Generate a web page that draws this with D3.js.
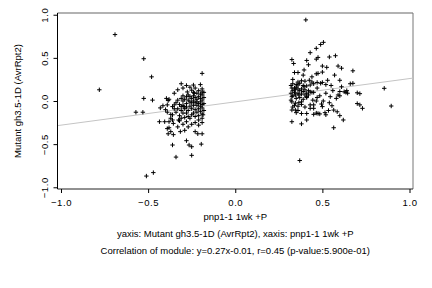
<!DOCTYPE html>
<html>
<head>
<meta charset="utf-8">
<script src="https://cdn.jsdelivr.net/npm/d3@7"></script>
<style>
  html, body { margin: 0; padding: 0; background: #fff; }
  text { font-family: "Liberation Sans", Arial, sans-serif; fill: #000; }
</style>
</head>
<body>
<svg id="chart" width="432" height="288"></svg>
<script>
// expression values: x = pnp1-1 1wk +P, y = Mutant gh3.5-1D (AvrRpt2)
const points = [
  // left group
  [-0.69,0.77],[-0.525,0.49],[-0.48,0.28],[-0.19,0.32],[-0.78,0.13],[-0.31,0.20],[-0.24,0.185],[-0.35,0.09],
  [-0.275,0.105],[-0.25,0.125],[-0.235,0.09],[-0.19,0.105],[-0.19,0.07],[-0.525,0.03],[-0.475,0.01],[-0.395,0.03],
  [-0.38,0.02],[-0.385,0.005],[-0.57,-0.13],[-0.53,-0.13],[-0.415,-0.055],[-0.39,-0.045],[-0.35,-0.045],[-0.36,-0.065],
  [-0.35,-0.09],[-0.31,-0.065],[-0.295,-0.065],[-0.37,-0.155],[-0.36,-0.16],[-0.28,-0.14],[-0.27,-0.18],[-0.31,-0.2],
  [-0.325,-0.22],[-0.435,-0.24],[-0.405,-0.24],[-0.38,-0.24],[-0.37,-0.2],[-0.36,-0.22],[-0.355,-0.26],[-0.32,-0.23],
  [-0.38,-0.31],[-0.37,-0.355],[-0.315,-0.355],[-0.39,-0.32],[-0.385,-0.38],[-0.355,-0.39],[-0.23,-0.355],[-0.215,-0.38],
  [-0.19,-0.38],[-0.36,-0.51],[-0.28,-0.46],[-0.265,-0.51],[-0.25,-0.53],[-0.34,-0.65],[-0.25,-0.63],[-0.195,-0.50],
  [-0.185,-0.16],[-0.19,-0.2],[-0.21,-0.22],[-0.51,-0.87],[-0.47,-0.83],
  [-0.27,0.07],[-0.26,0.05],[-0.25,0.03],[-0.24,0.06],[-0.23,0.04],[-0.22,0.02],[-0.21,0.05],[-0.2,0.03],
  [-0.19,0.01],[-0.2,-0.01],[-0.21,-0.03],[-0.22,-0.01],[-0.23,-0.02],[-0.24,0.0],[-0.25,-0.02],[-0.26,-0.01],
  [-0.27,0.01],[-0.28,-0.03],[-0.29,0.02],[-0.3,0.0],[-0.19,-0.04],[-0.2,-0.06],[-0.22,-0.05],[-0.24,-0.05],
  [-0.26,-0.06],[-0.28,-0.07],[-0.19,-0.08],[-0.21,-0.09],[-0.23,-0.1],[-0.25,-0.09],[-0.27,-0.11],[-0.2,-0.12],
  [-0.22,-0.13],[-0.24,-0.14],[-0.19,-0.15],[-0.21,-0.17],[-0.23,-0.18],[-0.25,-0.16],[-0.26,-0.2],[-0.2,0.08],
  [-0.22,0.09],[-0.24,0.1],[-0.21,0.12],[-0.19,0.14],[-0.2,0.19],[-0.23,0.15],[-0.28,0.05],[-0.3,0.06],
  [-0.31,0.03],[-0.33,0.01],[-0.34,-0.02],[-0.32,-0.04],[-0.3,-0.05],[-0.29,-0.09],[-0.31,-0.11],[-0.33,-0.09],
  [-0.34,-0.13],[-0.3,-0.14],[-0.32,-0.17],[-0.29,-0.19],[-0.28,-0.24],[-0.3,-0.27],[-0.27,-0.3],[-0.33,-0.3],
  [-0.29,-0.34],[-0.25,-0.27],[-0.23,-0.25],[-0.21,-0.28],[-0.19,-0.25],[-0.18,-0.11],[-0.18,-0.03],[-0.18,0.04],
  [-0.18,0.1],[-0.4,-0.1],[-0.43,-0.08],[-0.39,-0.13],[-0.3,0.15],[-0.28,0.18],[-0.26,0.16],[-0.33,0.13],
  // right group
  [0.405,0.94],[0.43,0.56],[0.465,0.61],[0.49,0.655],[0.506,0.68],[0.325,0.48],[0.335,0.435],[0.41,0.47],
  [0.42,0.42],[0.465,0.485],[0.475,0.505],[0.54,0.51],[0.575,0.525],[0.5,0.405],[0.525,0.39],[0.59,0.405],
  [0.61,0.38],[0.675,0.35],[0.34,0.33],[0.36,0.33],[0.395,0.36],[0.465,0.315],[0.475,0.32],[0.5,0.335],
  [0.57,0.30],[0.33,0.25],[0.36,0.22],[0.38,0.235],[0.4,0.23],[0.425,0.24],[0.44,0.22],[0.47,0.215],
  [0.49,0.205],[0.52,0.19],[0.55,0.18],[0.61,0.165],[0.66,0.2],[0.675,0.205],[0.855,0.147],[0.6,0.11],
  [0.64,0.12],[0.715,0.085],[0.70,0.095],[0.625,0.107],[0.645,0.09],[0.70,-0.03],[0.715,-0.045],[0.73,-0.085],
  [0.895,-0.058],[0.325,-0.105],[0.345,-0.105],[0.36,-0.11],[0.325,-0.24],[0.38,-0.265],[0.41,-0.22],[0.565,-0.31],
  [0.465,-0.14],[0.485,-0.15],[0.515,-0.135],[0.535,-0.11],[0.565,-0.105],[0.585,-0.125],[0.6,-0.17],[0.62,-0.22],
  [0.37,-0.69],[0.52,-0.16],[0.35,-0.135],[0.38,-0.145],[0.41,-0.145],[0.45,-0.155],[0.475,-0.145],[0.325,-0.01],
  [0.345,-0.025],[0.365,-0.02],[0.38,-0.01],[0.445,0.01],[0.465,0.0],[0.505,0.0],[0.495,-0.035],[0.5,-0.065],
  [0.43,-0.045],[0.45,-0.045],[0.43,-0.085],[0.45,-0.085],[0.555,-0.055],[0.325,0.05],[0.345,0.07],[0.365,0.07],
  [0.40,0.07],[0.41,0.04],[0.485,0.06],[0.545,0.05],[0.59,0.07],[0.60,0.06],[0.635,0.10],[0.325,0.15],
  [0.345,0.13],[0.36,0.185],[0.37,0.205],[0.395,0.165],[0.41,0.175],[0.43,0.185],[0.45,0.2],[0.5,0.215],
  [0.43,0.105],[0.44,0.1],[0.45,0.1],
  [0.32,0.18],[0.33,0.12],[0.34,0.1],[0.35,0.16],[0.36,0.09],[0.37,0.12],[0.38,0.14],[0.39,0.11],
  [0.4,0.13],[0.41,0.09],[0.42,0.12],[0.33,0.06],[0.35,0.03],[0.37,0.04],[0.39,0.02],[0.41,0.05],
  [0.32,0.01],[0.34,-0.05],[0.36,-0.06],[0.38,-0.04],[0.4,-0.07],[0.33,-0.07],[0.35,0.19],[0.39,0.18],
  [0.32,0.09],[0.34,0.15],[0.36,0.14],[0.42,0.07],[0.38,0.08],[0.33,0.2],[0.47,0.04],[0.52,0.09],
  [0.56,0.12],[0.58,0.03],[0.54,-0.02],[0.47,0.15],[0.53,0.24],[0.6,0.24],[0.44,0.28],[0.39,0.3]
];

const xTicks = [-1.0, -0.5, 0.0, 0.5, 1.0];
const yTicks = [-1.0, -0.5, 0.0, 0.5, 1.0];
const fitSlope = 0.27;
const fitIntercept = -0.01;

const xTitle = "pnp1-1 1wk +P";
const yTitle = "Mutant gh3.5-1D (AvrRpt2)";
const captions = [
  "yaxis: Mutant gh3.5-1D (AvrRpt2), xaxis: pnp1-1 1wk +P",
  "Correlation of module: y=0.27x-0.01, r=0.45 (p-value:5.900e-01)"
];

const box = { left: 57.5, right: 413, top: 13, bottom: 189 };
const fontSize = 9.5;

const svg = d3.select("#chart");

const x = d3.scaleLinear().domain([-1.02, 1.02]).range([box.left, box.right]);
const y = d3.scaleLinear().domain([-1.02, 1.02]).range([box.bottom, box.top]);

// frame (top/right grey, left/bottom black like the original)
svg.append("line")
  .attr("x1", box.left).attr("x2", box.right).attr("y1", box.top).attr("y2", box.top)
  .attr("stroke", "#999").attr("stroke-width", 1.3);
svg.append("line")
  .attr("x1", box.right).attr("x2", box.right).attr("y1", box.top).attr("y2", box.bottom)
  .attr("stroke", "#777");

svg.append("defs").append("clipPath").attr("id", "clip")
  .append("rect")
  .attr("x", box.left).attr("y", box.top)
  .attr("width", box.right - box.left).attr("height", box.bottom - box.top);

// fitted line
const fitLine = d3.line().x(d => x(d)).y(d => y(fitSlope * d + fitIntercept));
svg.append("path")
  .datum(x.domain())
  .attr("d", fitLine)
  .attr("fill", "none")
  .attr("stroke", "#c4c4c4")
  .attr("stroke-width", 1)
  .attr("clip-path", "url(#clip)");

// points as "+"
svg.append("g")
  .selectAll("path")
  .data(points)
  .join("path")
  .attr("transform", d => `translate(${x(d[0])},${y(d[1])})`)
  .attr("d", "M-2.2,0H2.2M0,-2.2V2.2")
  .attr("stroke", "#000")
  .attr("stroke-width", 1)
  .attr("fill", "none");

// axes
const xAxis = svg.append("g")
  .attr("transform", `translate(0,${box.bottom})`)
  .call(d3.axisBottom(x).tickValues(xTicks).tickFormat(d3.format(".1f")).tickSize(4).tickPadding(6));
xAxis.select(".domain").attr("d", `M${box.left},0H${box.right}`).attr("stroke", "#222");
xAxis.selectAll("text").attr("font-size", fontSize).attr("font-family", null).attr("letter-spacing", 0.6);

const yAxis = svg.append("g")
  .attr("transform", `translate(${box.left},0)`)
  .call(d3.axisLeft(y).tickValues(yTicks).tickFormat(d3.format(".1f")).tickSize(4));
yAxis.select(".domain").attr("d", `M0,${box.top}V${box.bottom}`).attr("stroke", "#000");
yAxis.selectAll("text")
  .attr("font-size", fontSize).attr("font-family", null).attr("letter-spacing", 0.6)
  .attr("x", null).attr("dy", null)
  .attr("text-anchor", "middle")
  .attr("transform", "translate(-10,0) rotate(-90)")
  .attr("y", 0).attr("dy", "0");

// titles
const midX = (box.left + box.right) / 2;
svg.append("text")
  .attr("x", midX).attr("y", 219.5)
  .attr("text-anchor", "middle")
  .attr("font-size", fontSize)
  .text(xTitle);

svg.append("text")
  .attr("transform", `translate(21,${(box.top + box.bottom) / 2}) rotate(-90)`)
  .attr("text-anchor", "middle")
  .attr("font-size", fontSize)
  .text(yTitle);

svg.selectAll(".caption")
  .data(captions)
  .join("text")
  .attr("class", "caption")
  .attr("x", midX)
  .attr("y", (d, i) => 237 + i * 17)
  .attr("text-anchor", "middle")
  .attr("font-size", fontSize)
  .text(d => d);
</script>
</body>
</html>
